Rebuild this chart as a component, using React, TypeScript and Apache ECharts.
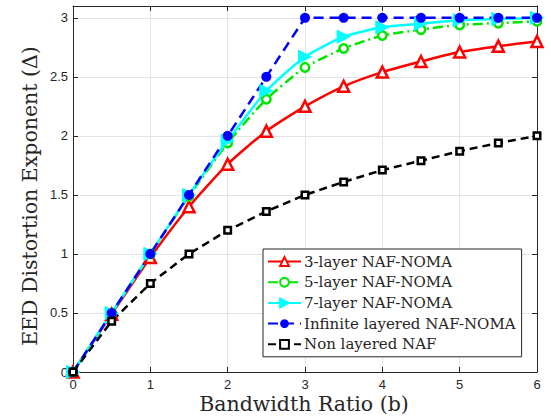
import React, { useEffect, useRef } from "react";
import * as echarts from "echarts";

const xValues = [0, 0.5, 1, 1.5, 2, 2.5, 3, 3.5, 4, 4.5, 5, 5.5, 6];
const layer3 = [0, 0.49, 0.97, 1.4, 1.76, 2.04, 2.25, 2.42, 2.54, 2.63, 2.71, 2.76, 2.8];
const layer5 = [0, 0.5, 1.0, 1.49, 1.94, 2.31, 2.58, 2.74, 2.85, 2.9, 2.94, 2.955, 2.97];
const layer7 = [0, 0.5, 1.0, 1.5, 1.96, 2.38, 2.67, 2.84, 2.92, 2.95, 2.98, 2.99, 3.0];
const infinite = [0, 0.5, 1, 1.5, 2, 2.5, 3, 3, 3, 3, 3, 3, 3];
const nonLayered = [0, 0.43, 0.75, 1.0, 1.2, 1.36, 1.5, 1.61, 1.71, 1.79, 1.87, 1.94, 2.0];

const seriesNames = [
  "3-layer NAF-NOMA",
  "5-layer NAF-NOMA",
  "7-layer NAF-NOMA",
  "Infinite layered NAF-NOMA",
  "Non layered NAF",
];
const xTitle = "Bandwidth Ratio (b)";
const yTitle = "EED Distortion Exponent (Δ)";

const pairs = (ys: number[]) => xValues.map((x, i) => [x, ys[i]]);

const SERIF = "'DejaVu Serif', 'Liberation Serif', serif";
const SANS = "'Liberation Sans', Arial, sans-serif";
const AXIS_COLOR = "#262626";

export default function App() {
  const ref = useRef<HTMLDivElement>(null);
  useEffect(() => {
    if (!ref.current) return;
    const chart = echarts.init(ref.current, undefined, { renderer: "svg" });
    const baseX = {
      type: "value" as const,
      min: 0,
      max: 6,
      interval: 1,
    };
    const baseY = {
      type: "value" as const,
      min: 0,
      max: 3.1,
      interval: 0.5,
    };
    chart.setOption({
      animation: false,
      backgroundColor: "#ffffff",
      grid: { left: 73, right: 14, top: 6, bottom: 48, containLabel: false },
      graphic: [
        {
          type: "text",
          x: 304,
          y: 404,
          style: {
            text: xTitle,
            fontFamily: SERIF,
            fontSize: 20.5,
            fill: AXIS_COLOR,
            textAlign: "center",
            textVerticalAlign: "middle",
          },
        },
        {
          type: "text",
          x: 30,
          y: 196,
          rotation: Math.PI / 2,
          style: {
            text: yTitle,
            fontFamily: SERIF,
            fontSize: 20.5,
            fill: AXIS_COLOR,
            textAlign: "center",
            textVerticalAlign: "middle",
          },
        },
      ],
      xAxis: [
        {
          ...baseX,
          position: "bottom",
          axisLine: { show: true, onZero: false, lineStyle: { color: AXIS_COLOR, width: 1 } },
          axisTick: { show: true, inside: true, length: 5, lineStyle: { color: AXIS_COLOR } },
          axisLabel: { fontFamily: SANS, fontSize: 13, color: AXIS_COLOR, margin: 6 },
          splitLine: { show: true, lineStyle: { color: "#e3e3e3", width: 1 } },
        },
        {
          ...baseX,
          position: "top",
          axisLine: { show: true, onZero: false, lineStyle: { color: AXIS_COLOR, width: 1 } },
          axisTick: { show: true, inside: true, length: 5, lineStyle: { color: AXIS_COLOR } },
          axisLabel: { show: false },
          splitLine: { show: false },
        },
      ],
      yAxis: [
        {
          ...baseY,
          position: "left",
          axisLine: { show: true, onZero: false, lineStyle: { color: AXIS_COLOR, width: 1 } },
          axisTick: { show: true, inside: true, length: 5, lineStyle: { color: AXIS_COLOR } },
          axisLabel: { fontFamily: SANS, fontSize: 13, color: AXIS_COLOR, margin: 5, showMaxLabel: false },
          splitLine: { show: true, lineStyle: { color: "#e3e3e3", width: 1 } },
        },
        {
          ...baseY,
          position: "right",
          axisLine: { show: true, onZero: false, lineStyle: { color: AXIS_COLOR, width: 1 } },
          axisTick: { show: true, inside: true, length: 5, lineStyle: { color: AXIS_COLOR } },
          axisLabel: { show: false },
          splitLine: { show: false },
        },
      ],
      legend: {
        orient: "vertical",
        left: 263,
        top: 249,
        width: 260,
        padding: [5, 6, 5, 4],
        itemWidth: 33,
        itemHeight: 11,
        itemGap: 5.7,
        backgroundColor: "#ffffff",
        borderColor: AXIS_COLOR,
        borderWidth: 1,
        borderRadius: 0,
        textStyle: { fontFamily: SERIF, fontSize: 15, color: AXIS_COLOR, padding: [0, 0, 0, -2] },
        data: seriesNames,
      },
      series: [
        {
          name: seriesNames[0],
          type: "line",
          data: pairs(layer3),
          smooth: 0.2,
          symbol: "triangle",
          symbolSize: 11,
          lineStyle: { color: "#ff0000", width: 2.5 },
          itemStyle: { color: "#ffffff", borderColor: "#ff0000", borderWidth: 2.5 },
        },
        {
          name: seriesNames[1],
          type: "line",
          data: pairs(layer5),
          smooth: 0.2,
          symbol: "circle",
          symbolSize: 8.5,
          lineStyle: { color: "#00e600", width: 2.5, type: [10, 4, 2, 4] },
          itemStyle: { color: "#ffffff", borderColor: "#00e600", borderWidth: 2.5 },
        },
        {
          name: seriesNames[2],
          type: "line",
          data: pairs(layer7),
          smooth: 0.2,
          symbol: "triangle",
          symbolRotate: -90,
          symbolSize: 13,
          lineStyle: { color: "#00ffff", width: 2.5 },
          itemStyle: { color: "#00ffff", borderColor: "#00ffff", borderWidth: 1 },
        },
        {
          name: seriesNames[3],
          type: "line",
          data: pairs(infinite),
          symbol: "circle",
          symbolSize: 10,
          lineStyle: { color: "#0000ff", width: 2.5, type: [10, 6] },
          itemStyle: { color: "#0000ff", borderColor: "#0000ff", borderWidth: 0 },
        },
        {
          name: seriesNames[4],
          type: "line",
          data: pairs(nonLayered),
          symbol: "rect",
          symbolSize: 6.5,
          lineStyle: { color: "#000000", width: 2.5, type: [8, 5] },
          itemStyle: { color: "#ffffff", borderColor: "#000000", borderWidth: 2.5 },
        },
      ],
    });
    return () => chart.dispose();
  }, []);
  return (
    <div
      ref={ref}
      style={{ position: "fixed", left: 0, top: 0, width: 551, height: 420 }}
    />
  );
}
